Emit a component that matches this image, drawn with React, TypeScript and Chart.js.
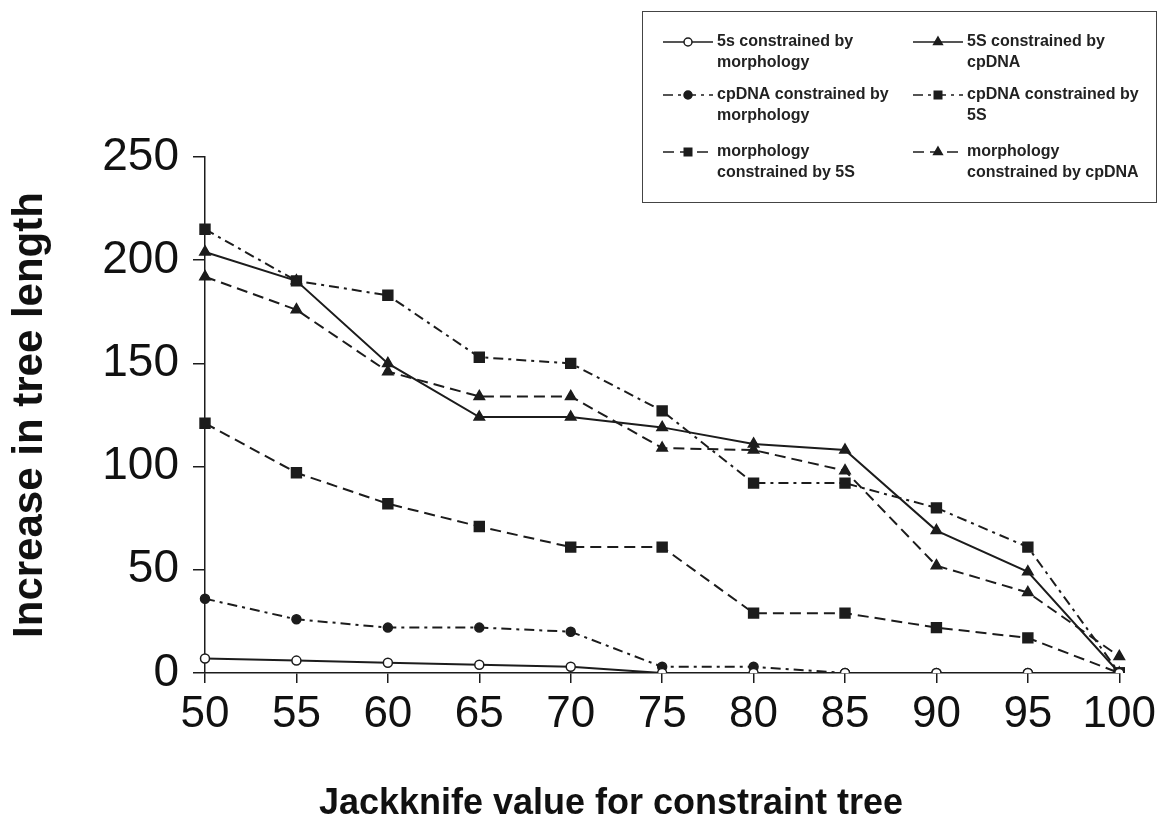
import React, { useEffect, useRef } from "react";
import { Chart, registerables } from "chart.js";

Chart.register(...registerables);

// ---- data ----
const jackknifeValues = ["50", "55", "60", "65", "70", "75", "80", "85", "90", "95", "100"];

const s5ByMorphology = [7, 6, 5, 4, 3, 0, 0, 0, 0, 0, 0];
const s5ByCpDNA = [204, 190, 150, 124, 124, 119, 111, 108, 69, 49, 0];
const cpDNAByMorphology = [36, 26, 22, 22, 20, 3, 3, 0, 0, 0, 0];
const cpDNABy5S = [215, 190, 183, 153, 150, 127, 92, 92, 80, 61, 0];
const morphologyBy5S = [121, 97, 82, 71, 61, 61, 29, 29, 22, 17, 0];
const morphologyByCpDNA = [192, 176, 146, 134, 134, 109, 108, 98, 52, 39, 8];

const legendLines: string[][] = [
  ["5s constrained by", "morphology"],
  ["5S constrained by", "cpDNA"],
  ["cpDNA constrained by", "morphology"],
  ["cpDNA constrained by", "5S"],
  ["morphology", "constrained by 5S"],
  ["morphology", "constrained by cpDNA"],
];

const yTitle = "Increase in tree length";
const xTitle = "Jackknife value for constraint tree";

const INK = "#1c1c1c";
const FONT = "'Liberation Sans', Arial, Helvetica, sans-serif";
const DASH_DOT = [10, 5, 3, 5];
const DASHED = [11, 6];

function drawMarker(ctx: CanvasRenderingContext2D, style: string, x: number, y: number, r: number, fill: string) {
  ctx.beginPath();
  if (style === "triangle") {
    ctx.moveTo(x, y - r);
    ctx.lineTo(x + r * 0.866, y + r * 0.5);
    ctx.lineTo(x - r * 0.866, y + r * 0.5);
    ctx.closePath();
  } else if (style === "rect") {
    ctx.rect(x - r * 0.75, y - r * 0.75, r * 1.5, r * 1.5);
  } else {
    ctx.arc(x, y, r * 0.8, 0, Math.PI * 2);
  }
  ctx.fillStyle = fill;
  ctx.fill();
  ctx.lineWidth = 1.5;
  ctx.strokeStyle = INK;
  ctx.stroke();
}

const boxLegend = {
  id: "boxLegend",
  afterDraw(chart: any) {
    const ctx: CanvasRenderingContext2D = chart.ctx;
    ctx.save();

    // x-axis title (placed left of centre as in the source figure)
    ctx.fillStyle = "#111";
    ctx.font = `bold 36px ${FONT}`;
    ctx.textAlign = "center";
    ctx.textBaseline = "middle";
    ctx.fillText(xTitle, 611, 804);

    // legend box
    ctx.setLineDash([]);
    ctx.strokeStyle = "#444";
    ctx.lineWidth = 1;
    ctx.strokeRect(642.5, 11.5, 514, 191);

    const cols = [663, 913];
    const rows = [42, 95, 152];
    chart.data.datasets.forEach((ds: any, i: number) => {
      const x0 = cols[i % 2];
      const y = rows[Math.floor(i / 2)];
      ctx.setLineDash(ds.borderDash || []);
      ctx.strokeStyle = INK;
      ctx.lineWidth = 1.5;
      ctx.beginPath();
      ctx.moveTo(x0, y);
      ctx.lineTo(x0 + 50, y);
      ctx.stroke();
      ctx.setLineDash([]);
      drawMarker(ctx, ds.pointStyle, x0 + 25, y, 5, ds.pointBackgroundColor);
      ctx.fillStyle = "#222";
      ctx.font = `bold 16px ${FONT}`;
      ctx.textBaseline = "middle";
      ctx.textAlign = "left";
      const lines = legendLines[i];
      ctx.fillText(lines[0], x0 + 54, y);
      ctx.fillText(lines[1], x0 + 54, y + 21);
    });
    ctx.restore();
  },
};

function series(label: string, data: number[], dash: number[], style: string, radius: number, fill: string) {
  return {
    label,
    data,
    borderColor: INK,
    borderWidth: 2,
    borderDash: dash,
    pointStyle: style,
    pointRadius: radius,
    pointBackgroundColor: fill,
    pointBorderColor: INK,
    pointBorderWidth: 1.5,
    fill: false,
    tension: 0,
  };
}

export default function App() {
  const ref = useRef<HTMLCanvasElement | null>(null);

  useEffect(() => {
    if (!ref.current) return;
    const chart = new Chart(ref.current, {
      type: "line",
      data: {
        labels: jackknifeValues,
        datasets: [
          series(legendLines[0].join(" "), s5ByMorphology, [], "circle", 4.5, "#ffffff"),
          series(legendLines[1].join(" "), s5ByCpDNA, [], "triangle", 6, INK),
          series(legendLines[2].join(" "), cpDNAByMorphology, DASH_DOT, "circle", 4.5, INK),
          series(legendLines[3].join(" "), cpDNABy5S, DASH_DOT, "rect", 7, INK),
          series(legendLines[4].join(" "), morphologyBy5S, DASHED, "rect", 7, INK),
          series(legendLines[5].join(" "), morphologyByCpDNA, DASHED, "triangle", 6, INK),
        ] as any,
      },
      options: {
        animation: false,
        responsive: true,
        maintainAspectRatio: false,
        layout: { padding: { top: 157, right: 39, bottom: 0, left: 0 } },
        plugins: {
          legend: { display: false },
          tooltip: { enabled: false },
        },
        scales: {
          x: {
            type: "category",
            offset: false,
            grid: { drawOnChartArea: false, tickLength: 10, color: INK, lineWidth: 1.5 },
            border: { display: true, color: INK, width: 1.5 },
            ticks: {
              color: "#111",
              padding: 5,
              maxRotation: 0,
              autoSkip: false,
              font: { family: FONT, size: 44 },
            },
            title: { display: false, text: xTitle },
            afterFit: (s: any) => {
              s.height = 155;
            },
          },
          y: {
            min: 0,
            max: 250,
            ticks: {
              stepSize: 50,
              color: "#111",
              padding: 14,
              font: { family: FONT, size: 46 },
            },
            grid: { drawOnChartArea: false, tickLength: 12, color: INK, lineWidth: 1.5 },
            border: { display: true, color: INK, width: 1.5 },
            title: {
              display: true,
              text: yTitle,
              color: "#111",
              font: { family: FONT, size: 42, weight: "bold" },
              padding: { top: 5, bottom: 0 },
            },
            afterFit: (s: any) => {
              s.width = 205;
            },
          },
        },
      },
      plugins: [boxLegend],
    });
    return () => chart.destroy();
  }, []);

  return (
    <div style={{ position: "absolute", left: 0, top: 0, width: 1161, height: 828, background: "#fff" }}>
      <canvas ref={ref} />
    </div>
  );
}
